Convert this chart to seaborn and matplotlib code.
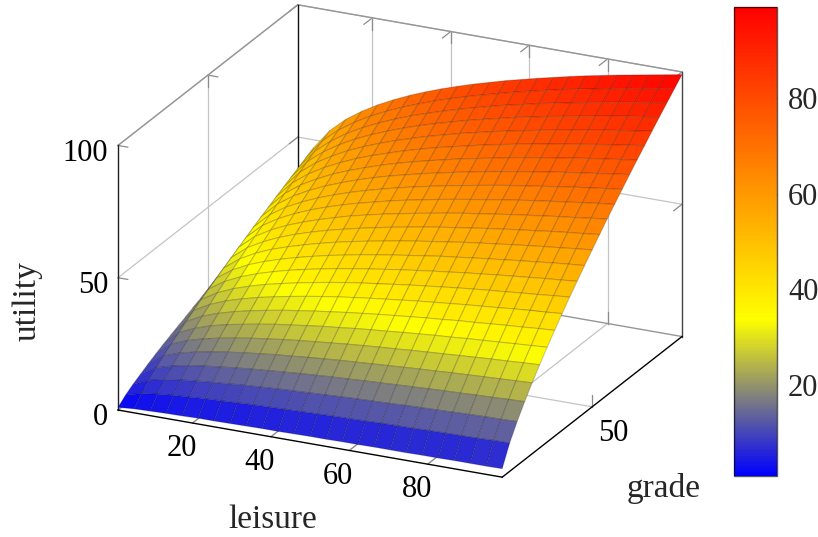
import numpy as np
import pandas as pd
import matplotlib
matplotlib.use("Agg")
import matplotlib.pyplot as plt
from matplotlib.cm import ScalarMappable
from matplotlib.colors import Normalize
from mpl_toolkits.mplot3d import proj3d
import seaborn as sns

# sample positions, the same on both axes
leisure = [1, 5.08, 9.17, 13.25, 17.33, 21.42, 25.5, 29.58, 33.67, 37.75, 41.83, 45.92, 50,
           54.08, 58.17, 62.25, 66.33, 70.42, 74.5, 78.58, 82.67, 86.75, 90.83, 94.92, 99]
grade = [1, 5.08, 9.17, 13.25, 17.33, 21.42, 25.5, 29.58, 33.67, 37.75, 41.83, 45.92, 50,
         54.08, 58.17, 62.25, 66.33, 70.42, 74.5, 78.58, 82.67, 86.75, 90.83, 94.92, 99]

# one row per grade, one column per leisure
utility = [
    [1.0,1.5,1.7,1.9,2.0,2.2,2.2,2.3,2.4,2.5,2.5,2.6,2.7,2.7,2.8,2.8,2.9,2.9,2.9,3.0,3.0,3.1,3.1,3.1,3.2],
    [3.4,5.1,5.9,6.5,6.9,7.3,7.6,7.9,8.2,8.4,8.6,8.8,9.0,9.2,9.3,9.5,9.7,9.8,9.9,10.1,10.2,10.3,10.4,10.6,10.7],
    [5.3,7.9,9.2,10.1,10.7,11.3,11.8,12.3,12.7,13.1,13.4,13.7,14.0,14.3,14.6,14.8,15.0,15.3,15.5,15.7,15.9,16.1,16.3,16.4,16.6],
    [6.9,10.4,12.1,13.3,14.2,14.9,15.6,16.2,16.7,17.2,17.7,18.1,18.5,18.8,19.2,19.5,19.8,20.1,20.4,20.7,20.9,21.2,21.4,21.7,21.9],
    [8.5,12.7,14.8,16.2,17.3,18.3,19.1,19.8,20.5,21.0,21.6,22.1,22.6,23.0,23.4,23.8,24.2,24.6,24.9,25.3,25.6,25.9,26.2,26.5,26.8],
    [10.0,14.9,17.3,19.0,20.3,21.4,22.4,23.2,24.0,24.7,25.3,25.9,26.5,27.0,27.5,27.9,28.4,28.8,29.2,29.6,30.0,30.4,30.7,31.1,31.4],
    [11.4,17.0,19.7,21.7,23.2,24.4,25.5,26.5,27.3,28.1,28.9,29.5,30.2,30.8,31.3,31.9,32.4,32.9,33.3,33.8,34.2,34.6,35.0,35.4,35.8],
    [12.7,19.0,22.1,24.2,25.9,27.3,28.5,29.6,30.5,31.4,32.2,33.0,33.7,34.4,35.0,35.6,36.2,36.7,37.3,37.7,38.2,38.7,39.1,39.6,40.0],
    [14.0,21.0,24.3,26.7,28.5,30.1,31.4,32.6,33.7,34.7,35.6,36.4,37.2,37.9,38.6,39.3,39.9,40.5,41.1,41.6,42.1,42.7,43.2,43.6,44.1],
    [15.2,22.9,26.5,29.1,31.1,32.8,34.2,35.5,36.7,37.8,38.8,39.7,40.5,41.3,42.1,42.8,43.5,44.2,44.8,45.4,45.9,46.5,47.0,47.6,48.1],
    [16.5,24.7,28.6,31.4,33.6,35.4,37.0,38.4,39.6,40.8,41.8,42.8,43.7,44.6,45.4,46.2,46.9,47.7,48.3,49.0,49.6,50.2,50.8,51.3,51.9],
    [17.6,26.5,30.7,33.7,36.0,37.9,39.6,41.1,42.5,43.7,44.9,45.9,46.9,47.8,48.7,49.6,50.3,51.1,51.8,52.5,53.2,53.8,54.5,55.1,55.6],
    [18.8,28.2,32.7,35.9,38.4,40.4,42.2,43.8,45.3,46.6,47.8,48.9,50.0,51.0,51.9,52.8,53.7,54.5,55.2,56.0,56.7,57.4,58.0,58.7,59.3],
    [19.9,29.9,34.7,38.0,40.7,42.9,44.8,46.5,48.0,49.4,50.7,51.9,53.0,54.1,55.1,56.0,56.9,57.8,58.6,59.4,60.1,60.9,61.6,62.2,62.9],
    [21.1,31.6,36.7,40.2,43.0,45.3,47.3,49.1,50.8,52.2,53.6,54.8,56.0,57.1,58.2,59.2,60.1,61.0,61.9,62.7,63.5,64.3,65.0,65.8,66.5],
    [22.2,33.2,38.6,42.3,45.2,47.7,49.8,51.7,53.4,54.9,56.4,57.7,58.9,60.1,61.2,62.2,63.2,64.2,65.1,66.0,66.8,67.6,68.4,69.2,69.9],
    [23.3,34.9,40.5,44.4,47.4,50.0,52.2,54.2,56.0,57.6,59.1,60.5,61.8,63.1,64.2,65.3,66.4,67.4,68.3,69.2,70.1,71.0,71.8,72.6,73.3],
    [24.3,36.5,42.3,46.4,49.6,52.3,54.6,56.7,58.6,60.3,61.8,63.3,64.6,65.9,67.1,68.3,69.4,70.4,71.4,72.4,73.3,74.2,75.0,75.9,76.7],
    [25.4,38.0,44.1,48.4,51.7,54.6,57.0,59.1,61.1,62.9,64.5,66.0,67.4,68.8,70.0,71.2,72.4,73.5,74.5,75.5,76.5,77.4,78.3,79.1,80.0],
    [26.4,39.6,45.9,50.3,53.8,56.7,59.3,61.5,63.5,65.4,67.1,68.7,70.1,71.5,72.9,74.1,75.3,76.4,77.5,78.5,79.5,80.5,81.4,82.3,83.2],
    [27.4,41.1,47.7,52.3,55.9,59.0,61.6,63.9,66.0,67.9,69.7,71.3,72.9,74.3,75.7,77.0,78.2,79.4,80.5,81.6,82.6,83.7,84.6,85.5,86.5],
    [28.4,42.6,49.5,54.2,58.0,61.2,63.9,66.3,68.5,70.5,72.3,74.0,75.6,77.1,78.5,79.9,81.1,82.4,83.5,84.6,85.7,86.8,87.8,88.7,89.7],
    [29.4,44.1,51.2,56.1,60.0,63.3,66.1,68.6,70.9,72.9,74.8,76.6,78.2,79.8,81.3,82.6,84.0,85.2,86.4,87.6,88.7,89.8,90.8,91.8,92.8],
    [30.4,45.6,52.9,58.0,62.0,65.4,68.3,70.9,73.2,75.4,77.3,79.1,80.8,82.4,84.0,85.4,86.8,88.1,89.3,90.5,91.7,92.8,93.8,94.9,95.9],
    [31.4,47.1,54.6,59.9,64.0,67.5,70.5,73.2,75.6,77.8,79.8,81.7,83.4,85.1,86.6,88.1,89.5,90.9,92.2,93.4,94.6,95.7,96.8,97.9,99.0],
]

x_ticks = [20, 40, 60, 80]
y_ticks = [50]
z_ticks = [0, 50, 100]
bar_ticks = [20, 40, 60, 80]

sns.set_theme(style="white")
plt.rcParams["font.family"] = ["Liberation Serif", "DejaVu Serif"]

W, H = 818, 537
FS = 22
LABEL_FS = 24
hot = sns.blend_palette(["#0000ff", "#ffff00", "#ff8000", "#ff0000"], n_colors=256, as_cmap=True)
norm = Normalize(vmin=1, vmax=99)

fig = plt.figure(figsize=(W / 100, H / 100), dpi=100, facecolor="white")

S = 643
ax = fig.add_axes([(400 - 0.5135 * S) / W, (296 - 0.5135 * S) / H, S / W, S / H],
                  projection="3d", proj_type="ortho", computed_zorder=False)
ax.view_init(elev=21.7, azim=-64.7)
ax.set_box_aspect((1, 0.99, 0.67))
ax.set_axis_off()

x0, x1 = leisure[0], leisure[-1]
y0, y1 = grade[0], grade[-1]
z0, z1 = z_ticks[0], z_ticks[-1]
GRID = "#c4c4c4"
TICK = "#8c8c8c"
EDGE = "#969696"


def seg(p, q, color, lw=0.9, zorder=1):
    ax.plot([p[0], q[0]], [p[1], q[1]], [p[2], q[2]], color=color, lw=lw, zorder=zorder,
            solid_capstyle="projecting")


# grid on the two back walls and the floor
for x in x_ticks:
    seg((x, y0, z0), (x, y1, z0), GRID)
    seg((x, y1, z0), (x, y1, z1), GRID)
    seg((x, y1, z0), (x, y1, z0 + 4.5), TICK)
    seg((x, y1, z1), (x, y1, z1 - 4.5), TICK)
    seg((x, y0, z0), (x, y0 + 4.5, z0), TICK)
    seg((x, y1, z1), (x, y1 - 4.5, z1), TICK)
for y in y_ticks:
    seg((x0, y, z0), (x1, y, z0), GRID)
    seg((x0, y, z0), (x0, y, z1), GRID)
    seg((x1, y, z0), (x1, y, z0 + 4.5), TICK)
    seg((x0, y, z1), (x0, y, z1 - 4.5), TICK)
    seg((x0, y, z1), (x0 + 2.5, y, z1), TICK)
for z in z_ticks[1:]:
    seg((x0, y0, z), (x0, y1, z), GRID)
    seg((x0, y1, z), (x1, y1, z), GRID)
    seg((x0, y0, z), (x0 + 2.5, y0, z), TICK)
    seg((x1, y1, z), (x1, y1 - 4.5, z), TICK)
    seg((x0, y1, z), (x0, y1 - 4.5, z), TICK)

# back edges of the box
seg((x0, y0, z1), (x0, y1, z1), EDGE, 1.0)
seg((x0, y1, z1), (x1, y1, z1), EDGE, 1.0)
seg((x0, y0, z0), (x0, y1, z0), EDGE, 1.0)
seg((x0, y1, z0), (x1, y1, z0), EDGE, 1.0)
seg((x0, y1, z0), (x0, y1, z1), "#111111", 1.0)
seg((x1, y1, z0), (x1, y1, z1), "#444444", 1.0)
seg((x0, y0, z0), (x0, y0, z1), "#222222", 1.0)

X, Y = np.meshgrid(leisure, grade)
Z = np.array(utility)
ax.plot_surface(X, Y, Z, rstride=1, cstride=1, cmap=hot, norm=norm, shade=False,
                edgecolor=(0, 0, 0, 0.18), linewidth=0.8, antialiased=True, zorder=2)

# front edges lie on top of the surface
seg((x0, y0, z0), (x1, y0, z0), "black", 1.0, 3)
seg((x1, y0, z0), (x1, y1, z0), "black", 1.0, 3)

ax.set_xlim(x0, x1)
ax.set_ylim(y0, y1)
ax.set_zlim(z0, z1)


def tick_label(x, y, z, s, ha="center"):
    # text2D keeps the label at its projected place, a 3D text reports raw data coordinates
    px, py, _ = proj3d.proj_transform(x, y, z, ax.get_proj())
    ax.text2D(px, py, s, transform=ax.transData, ha=ha, va="center", fontsize=FS, color="black", zorder=4)


for x in x_ticks:
    tick_label(x, y0 - 6, z0 - 6.5, str(x))
for y in y_ticks:
    tick_label(x1 + 5.4, y, z0 - 8.7, str(y))
for z in z_ticks:
    tick_label(x0, y0 - 5.4, z, str(z), ha="right")

fig.text(273 / W, 1 - 520 / H, "leisure", ha="center", va="center", fontsize=LABEL_FS)
fig.text(664 / W, 1 - 489 / H, "grade", ha="center", va="center", fontsize=LABEL_FS)
fig.text(27 / W, 1 - 301 / H, "utility", ha="center", va="center", rotation=90, fontsize=LABEL_FS)

# colour bar
cax = fig.add_axes([734 / W, 1 - 476 / H, 43 / W, 469 / H])
cb = fig.colorbar(ScalarMappable(norm=norm, cmap=hot), cax=cax, ticks=bar_ticks)
cb.outline.set_edgecolor((0, 0, 0, 0.65))
cb.outline.set_linewidth(1.0)
cb.ax.tick_params(axis="y", which="both", direction="in", left=True, right=True, length=8, width=0.9,
                  color=(0.5, 0.5, 0.5, 0.85), labelsize=FS, pad=8)

fig.savefig("out.png", dpi=100)
